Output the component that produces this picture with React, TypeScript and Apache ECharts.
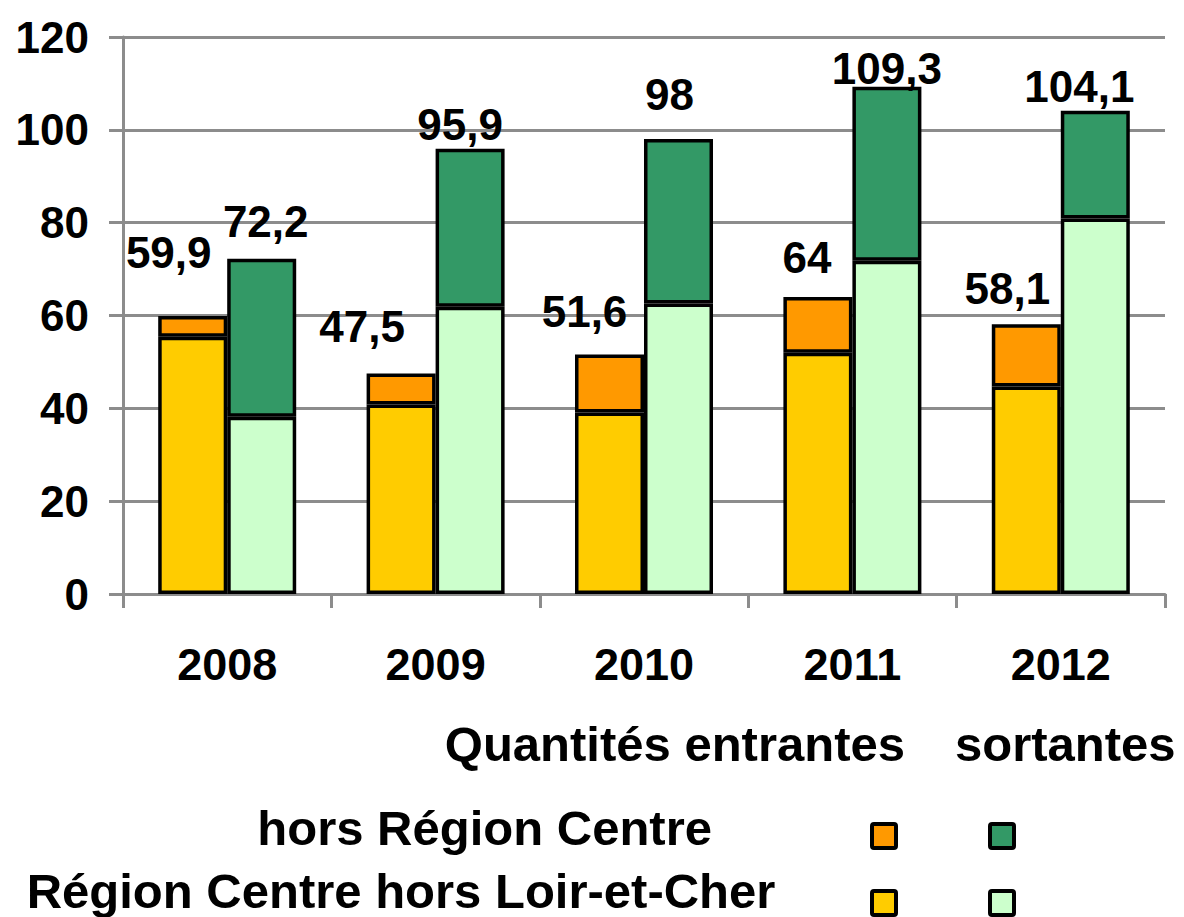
import React, { useEffect, useRef } from "react";
import * as echarts from "echarts";

const years = ["2008", "2009", "2010", "2011", "2012"];
const entrantesRegion = [55.4, 40.8, 39.1, 52.0, 44.7];
const entrantesTotal = [59.9, 47.5, 51.6, 64, 58.1];
const sortantesRegion = [38.2, 61.9, 62.6, 71.8, 80.9];
const sortantesTotal = [72.2, 95.9, 98, 109.3, 104.1];
const yTicks = [0, 20, 40, 60, 80, 100, 120];

// label offsets (style only)
const entOffsets = [[-24, -36], [-39, -20], [-25, -16], [-11, -12], [-19, -9]];
const sortOffsets = [[4, -10], [-10, 3], [-9, -18], [0, 9], [-16, 3]];

const FONT = "'Liberation Sans', Arial, sans-serif";
const GRAY = "#8c8c8c";

const fmt = (v: number) => String(v).replace(".", ",");

export default function App() {
  const ref = useRef<HTMLDivElement>(null);
  useEffect(() => {
    document.body.style.margin = "0";
    const chart = echarts.init(ref.current!, null, { renderer: "svg" });
    const round1 = (v: number) => Math.round(v * 10) / 10;
    const barBase = {
      type: "bar",
      barWidth: 69,
      barGap: "0%",
      itemStyle: { borderColor: "#000", borderWidth: 3.5 },
    };
    const labelBase = {
      show: true,
      position: "top",
      fontFamily: FONT,
      fontWeight: "bold",
      fontSize: 44,
      color: "#000",
    };
    const legendFont = `bold 49px ${FONT}`;
    chart.setOption({
      animation: false,
      backgroundColor: "#fff",
      grid: { left: 123, right: 19, top: 37, bottom: 323, containLabel: false },
      xAxis: {
        type: "category",
        data: years,
        axisLine: { lineStyle: { color: GRAY, width: 3 } },
        axisTick: { show: true, length: 14, lineStyle: { color: GRAY, width: 3 } },
        axisLabel: {
          margin: 48,
          fontFamily: FONT,
          fontWeight: "bold",
          fontSize: 45,
          color: "#000",
        },
      },
      yAxis: {
        type: "value",
        min: yTicks[0],
        max: yTicks[yTicks.length - 1],
        interval: 20,
        axisLine: { show: true, lineStyle: { color: GRAY, width: 3 } },
        axisTick: { show: true, length: 14, lineStyle: { color: GRAY, width: 3 } },
        splitLine: { lineStyle: { color: GRAY, width: 3 } },
        axisLabel: {
          margin: 34,
          fontFamily: FONT,
          fontWeight: "bold",
          fontSize: 44,
          color: "#000",
        },
      },
      series: [
        {
          ...barBase,
          name: "Entrantes Région Centre hors Loir-et-Cher",
          stack: "e",
          data: entrantesRegion,
          itemStyle: { ...barBase.itemStyle, color: "#FFCC00" },
        },
        {
          ...barBase,
          name: "Entrantes hors Région Centre",
          stack: "e",
          data: entrantesTotal.map((t, i) => ({
            value: round1(t - entrantesRegion[i]),
            label: { ...labelBase, offset: entOffsets[i], formatter: fmt(t) },
          })),
          itemStyle: { ...barBase.itemStyle, color: "#FF9900" },
        },
        {
          ...barBase,
          name: "Sortantes Région Centre hors Loir-et-Cher",
          stack: "s",
          data: sortantesRegion,
          itemStyle: { ...barBase.itemStyle, color: "#CCFFCC" },
        },
        {
          ...barBase,
          name: "Sortantes hors Région Centre",
          stack: "s",
          data: sortantesTotal.map((t, i) => ({
            value: round1(t - sortantesRegion[i]),
            label: { ...labelBase, offset: sortOffsets[i], formatter: fmt(t) },
          })),
          itemStyle: { ...barBase.itemStyle, color: "#339966" },
        },
      ],
      graphic: [
        {
          type: "text",
          x: 905,
          y: 744,
          style: { text: "Quantités entrantes", font: legendFont, fill: "#000", align: "right", verticalAlign: "middle" },
        },
        {
          type: "text",
          x: 955,
          y: 744,
          style: { text: "sortantes", font: legendFont, fill: "#000", align: "left", verticalAlign: "middle" },
        },
        {
          type: "text",
          x: 712,
          y: 828,
          style: { text: "hors Région Centre", font: legendFont, fill: "#000", align: "right", verticalAlign: "middle" },
        },
        {
          type: "text",
          x: 401,
          y: 891,
          style: { text: "Région Centre hors Loir-et-Cher", font: legendFont, fill: "#000", align: "center", verticalAlign: "middle" },
        },
        { type: "rect", shape: { x: 872, y: 824, width: 24, height: 24, r: 2 }, style: { fill: "#FF9900", stroke: "#000", lineWidth: 4 } },
        { type: "rect", shape: { x: 990, y: 824, width: 24, height: 24, r: 2 }, style: { fill: "#339966", stroke: "#000", lineWidth: 4 } },
        { type: "rect", shape: { x: 872, y: 891, width: 24, height: 24, r: 2 }, style: { fill: "#FFCC00", stroke: "#000", lineWidth: 4 } },
        { type: "rect", shape: { x: 990, y: 891, width: 24, height: 24, r: 2 }, style: { fill: "#CCFFCC", stroke: "#000", lineWidth: 4 } },
      ],
    });
    return () => chart.dispose();
  }, []);
  return <div ref={ref} style={{ width: 1184, height: 917 }} />;
}
